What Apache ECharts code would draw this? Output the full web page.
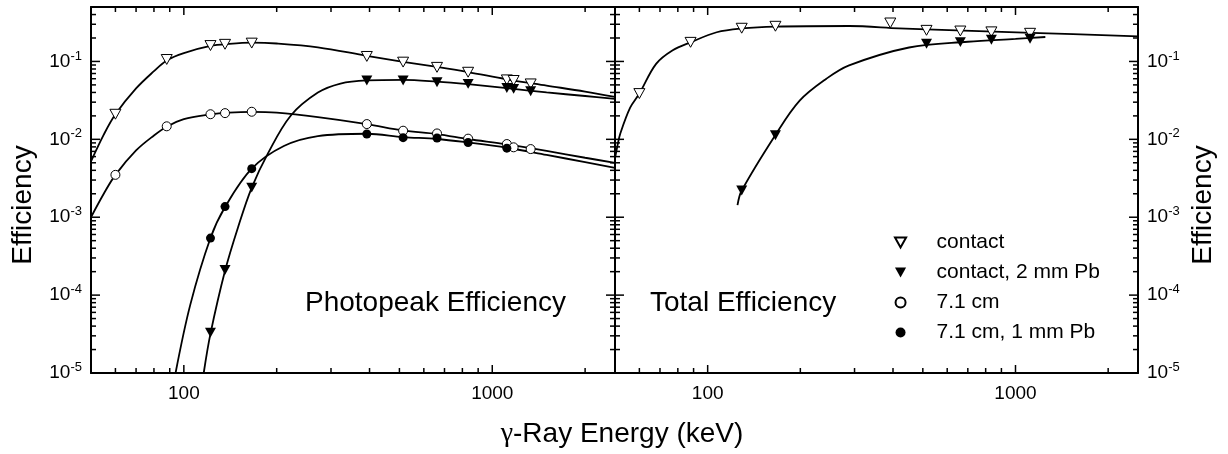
<!DOCTYPE html>
<html>
<head>
<meta charset="utf-8">
<script src="https://cdn.jsdelivr.net/npm/echarts@6/dist/echarts.min.js"></script>
<style>
  html, body { margin: 0; padding: 0; background: #fff; }
  #chart { width: 1228px; height: 454px; }
</style>
</head>
<body>
<div id="chart"></div>
<script>
// photopeak efficiency (left panel), measured points
const ePhoto = [60, 88, 122, 136, 166, 392, 514, 662, 835, 1115, 1173, 1332]
const contactPhoto = [0.021, 0.106, 0.160, 0.166, 0.172, 0.116, 0.098, 0.084, 0.0727, 0.058, 0.057, 0.0515]
const farPhoto = [0.0035, 0.0147, 0.021, 0.0217, 0.0226, 0.0157, 0.0129, 0.0119, 0.0102, 0.0087, 0.0079, 0.0075]
const ePhotoPb = [122, 136, 166, 392, 514, 662, 835, 1115, 1173, 1332]
const contactPbPhoto = [3.3e-5, 2.1e-4, 2.4e-3, 0.057, 0.057, 0.054, 0.0515, 0.0457, 0.0445, 0.0414]
const eFarPb = [122, 136, 166, 392, 514, 662, 835, 1115]
const farPbPhoto = [5.4e-4, 1.37e-3, 4.2e-3, 0.0117, 0.0105, 0.0104, 0.0091, 0.0077]

// total efficiency (right panel), measured points
const eTotal = [60, 88, 129, 166, 392, 514, 662, 835, 1115]
const contactTotal = [0.0387, 0.176, 0.267, 0.283, 0.312, 0.251, 0.246, 0.240, 0.230]
const eTotalPb = [129, 166, 514, 662, 835, 1115]
const contactPbTotal = [2.2e-3, 0.0113, 0.169, 0.177, 0.190, 0.196]

// fitted curves
const eFit = [50, 55, 60, 70, 80, 88, 100, 122, 140, 166, 200, 272, 392, 514, 662, 835, 1115, 1500, 2000, 2500]
const contactFit = [0.0052, 0.0115, 0.021, 0.045, 0.075, 0.103, 0.128, 0.158, 0.168, 0.174, 0.170, 0.152, 0.118, 0.099, 0.085, 0.073, 0.059, 0.049, 0.041, 0.035]
const farFit = [0.0010, 0.0020, 0.0035, 0.0072, 0.0112, 0.0145, 0.0182, 0.0209, 0.0220, 0.0225, 0.0220, 0.0193, 0.0157, 0.0130, 0.0117, 0.0101, 0.0086, 0.0071, 0.0058, 0.0050]
const eContactPbFit = [116, 122, 136, 150, 166, 187, 222, 272, 322, 392, 514, 662, 835, 1115, 1500, 2000, 2500]
const contactPbFit = [1e-5, 3.2e-5, 2.05e-4, 7.5e-4, 2.4e-3, 6.5e-3, 0.0201, 0.0398, 0.052, 0.057, 0.058, 0.055, 0.051, 0.0455, 0.040, 0.036, 0.033]
const eFarPbFit = [94, 105, 122, 136, 166, 211, 272, 392, 514, 662, 835, 1115, 1500, 2000, 2500]
const farPbFit = [1e-5, 7.6e-5, 5.4e-4, 1.35e-3, 4.2e-3, 8.2e-3, 0.0110, 0.0118, 0.0107, 0.0101, 0.0091, 0.0078, 0.0063, 0.0051, 0.0043]
const eTotalFit = [50, 51, 52, 56, 60, 68, 77, 88, 107, 129, 166, 288, 418, 514, 1127, 2500]
const contactTotalFit = [0.0057, 0.0085, 0.0118, 0.0255, 0.0387, 0.093, 0.139, 0.176, 0.237, 0.265, 0.280, 0.285, 0.266, 0.258, 0.233, 0.21]
const eTotalPbFit = [125, 129, 166, 199, 243, 288, 451, 700, 1000, 1250]
const contactPbTotalFit = [1.43e-3, 2.2e-3, 0.0114, 0.0314, 0.060, 0.089, 0.151, 0.179, 0.195, 0.206]

// ticks
const xMajor = [100, 1000]
const xMinor = [60, 70, 80, 90, 200, 300, 400, 500, 600, 700, 800, 900, 2000]
const yMajor = [1e-5, 1e-4, 1e-3, 1e-2, 1e-1]
const yMinor = [1e-5, 1e-4, 1e-3, 1e-2].flatMap(d => [2, 3, 4, 5, 6, 7, 8, 9].map(m => m * d)).concat([0.2, 0.3, 0.4, 0.5])

const legendNames = ['contact', 'contact, 2 mm Pb', '7.1 cm', '7.1 cm, 1 mm Pb']

const font = "'Liberation Sans', Arial, Helvetica, sans-serif"
const pair = (xs, ys) => xs.map((x, i) => [x, ys[i]])
const axisLine = { onZero: false, lineStyle: { color: '#000', width: 2 } }

function xAxes(g) {
  const base = { type: 'log', gridIndex: g, min: 50, max: 2500, splitLine: { show: false }, axisLine, axisTick: { show: false } }
  return [
    { ...base, position: 'bottom',
      axisLabel: { customValues: xMajor, margin: 11, color: '#000', fontSize: 19, fontFamily: font,
        formatter: v => String(Math.round(v)) } },
    { ...base, position: 'top', axisLabel: { show: false } },
  ]
}

function yAxes(g, labelSide) {
  const base = { type: 'log', gridIndex: g, min: 1e-5, max: 0.5, splitLine: { show: false }, axisLine, axisTick: { show: false } }
  return ['left', 'right'].map(side => ({
    ...base, position: side,
    axisLabel: side === labelSide ? {
      customValues: yMajor, margin: 9, color: '#000', fontFamily: font,
      formatter: v => '{b|10}{s|' + Math.round(Math.log10(v)) + '}',
      rich: {
        b: { fontSize: 19, fontFamily: font, color: '#000', lineHeight: 24 },
        s: { fontSize: 13, fontFamily: font, color: '#000', verticalAlign: 'top', lineHeight: 14 },
      },
    } : { show: false },
  }))
}

const tri = 'path://M0,0L10,0L5,9Z'
const openStyle = { color: '#fff', borderColor: '#000', borderWidth: 1, opacity: 1 }
const solidStyle = { color: '#000', opacity: 1 }

function points(name, xs, ys, symbol, size, style, g) {
  return {
    name, type: 'scatter', xAxisIndex: g * 2, yAxisIndex: g * 2,
    data: pair(xs, ys), symbol, symbolSize: size, symbolKeepAspect: true,
    itemStyle: style, z: 5, silent: true,
  }
}

function curve(xs, ys, g) {
  return {
    type: 'line', xAxisIndex: g * 2, yAxisIndex: g * 2,
    data: pair(xs, ys), symbol: 'none', showSymbol: false, smooth: 0.35,
    lineStyle: { color: '#000', width: 1.8 }, z: 3, silent: true,
  }
}

const texts = [
  { type: 'text', x: 23, y: 205, rotation: Math.PI / 2,
    style: { text: 'Efficiency', fontSize: 28, fontFamily: font, fill: '#000', align: 'center', verticalAlign: 'middle' } },
  { type: 'text', x: 1203, y: 205, rotation: Math.PI / 2,
    style: { text: 'Efficiency', fontSize: 28, fontFamily: font, fill: '#000', align: 'center', verticalAlign: 'middle' } },
  { type: 'text', x: 622, y: 434,
    style: { text: '{g|γ}-Ray Energy (keV)', fontSize: 28, fontFamily: font, fill: '#000', align: 'center', verticalAlign: 'middle',
      rich: { g: { fontSize: 28, fontFamily: "'Liberation Serif', 'DejaVu Serif', serif", fill: '#000' } } } },
  { type: 'text', x: 305, y: 303,
    style: { text: 'Photopeak Efficiency', fontSize: 28, fontFamily: font, fill: '#000', align: 'left', verticalAlign: 'middle' } },
  { type: 'text', x: 650, y: 303,
    style: { text: 'Total Efficiency', fontSize: 28, fontFamily: font, fill: '#000', align: 'left', verticalAlign: 'middle' } },
]

const chart = echarts.init(document.getElementById('chart'))
chart.setOption({
  animation: false,
  backgroundColor: '#fff',
  grid: [
    { left: 91, top: 7, width: 524, height: 366 },
    { left: 615, top: 7, width: 523, height: 366 },
  ],
  xAxis: [...xAxes(0), ...xAxes(1)],
  yAxis: [...yAxes(0, 'left'), ...yAxes(1, 'right')],
  legend: {
    data: legendNames, orient: 'vertical', left: 889, top: 227,
    itemWidth: 62, itemHeight: 10, itemGap: 9, symbolKeepAspect: true,
    textStyle: { color: '#000', fontSize: 21, fontFamily: font, lineHeight: 21 },
    selectedMode: false,
  },
  graphic: texts,
  series: [
    curve(eFit, contactFit, 0),
    curve(eFit, farFit, 0),
    curve(eContactPbFit, contactPbFit, 0),
    curve(eFarPbFit, farPbFit, 0),
    curve(eTotalFit, contactTotalFit, 1),
    curve(eTotalPbFit, contactPbTotalFit, 1),
    points('contact', ePhoto, contactPhoto, tri, 11, openStyle, 0),
    points('contact, 2 mm Pb', ePhotoPb, contactPbPhoto, tri, 11, solidStyle, 0),
    points('7.1 cm', ePhoto, farPhoto, 'circle', 9, openStyle, 0),
    points('7.1 cm, 1 mm Pb', eFarPb, farPbPhoto, 'circle', 9, solidStyle, 0),
    points('contact', eTotal, contactTotal, tri, 11, openStyle, 1),
    points('contact, 2 mm Pb', eTotalPb, contactPbTotal, tri, 11, solidStyle, 1),
  ],
})

// inward log ticks on all four sides of each panel, placed through the axes' own scales
const ticks = []
const tickStyle = { stroke: '#000', lineWidth: 1.5 }
for (const g of [0, 1]) {
  const xa = { xAxisIndex: g * 2 }
  const ya = { yAxisIndex: g * 2 }
  const top = chart.convertToPixel(ya, 0.5)
  const bottom = chart.convertToPixel(ya, 1e-5)
  const left = chart.convertToPixel(xa, 50)
  const right = chart.convertToPixel(xa, 2500)
  const addX = (v, len) => {
    const px = chart.convertToPixel(xa, v)
    ticks.push({ type: 'line', silent: true, z: 10, shape: { x1: px, y1: bottom, x2: px, y2: bottom - len }, style: tickStyle })
    ticks.push({ type: 'line', silent: true, z: 10, shape: { x1: px, y1: top, x2: px, y2: top + len }, style: tickStyle })
  }
  const addY = (v, len) => {
    const py = chart.convertToPixel(ya, v)
    ticks.push({ type: 'line', silent: true, z: 10, shape: { x1: left, y1: py, x2: left + len, y2: py }, style: tickStyle })
    ticks.push({ type: 'line', silent: true, z: 10, shape: { x1: right, y1: py, x2: right - len, y2: py }, style: tickStyle })
  }
  xMajor.forEach(v => addX(v, 8))
  xMinor.forEach(v => addX(v, 5))
  yMajor.forEach(v => addY(v, 9))
  yMinor.forEach(v => addY(v, 5))
}
chart.setOption({ graphic: texts.concat(ticks) })
</script>
</body>
</html>
